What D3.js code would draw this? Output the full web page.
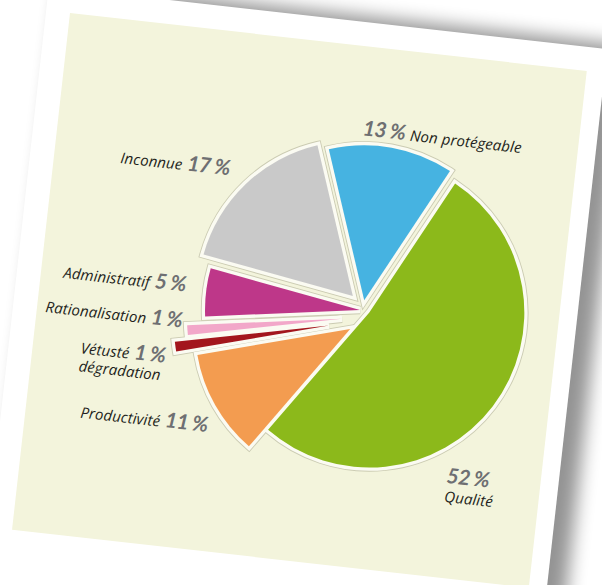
<!DOCTYPE html>
<html>
<head>
<meta charset="utf-8">
<script src="https://cdn.jsdelivr.net/npm/d3@7"></script>
<style>
  html, body { margin: 0; padding: 0; background: #ffffff; }
  svg { display: block; }
</style>
</head>
<body>
<svg id="chart" width="602" height="585"></svg>
<script>
// Causes, shares in percent (order: clockwise from the top-right edge of "Qualité")
const categories = ["Qualité", "Productivité", "Vétusté\ndégradation", "Rationalisation", "Administratif", "Inconnue", "Non protégeable"];
const shares = [52, 11, 1, 1, 5, 17, 13];
const percentLabels = ["52 %", "11 %", "1 %", "1 %", "5 %", "17 %", "13 %"];

// Slice colours
const sliceColors = ["#8cb91b", "#f39c50", "#a3161d", "#f2a7c9", "#be3789", "#c9c9c9", "#46b3e1"];

// Pull-out of each slice: distance in px and direction in degrees (clockwise from 12 o'clock)
const explodeDist = [8.7, 21.9, 35.6, 20.9, 1, 16.1, 10.3];
const explodeDir  = [100.4, 203.2, 237.6, 238.8, 263.6, 323.1, 11.7];

// Label anchors inside the card, and how number and text are arranged
const labelPos = [
  { x: 426, y: 425, form: "stack"  },
  { x: 55,  y: 401, form: "after"  },
  { x: 48,  y: 337, form: "after"  },
  { x: 8.5, y: 300, form: "after"  },
  { x: 22.5,y: 264, form: "after"  },
  { x: 66.4,y: 143.5, form: "after" },
  { x: 304, y: 89,  form: "before" }
];

// Card geometry
const tilt = 6.4;                 // degrees
const panelSize = 520;
const border = 24;
const pieCenter = [322.3, 262.7];
const radius = 155;
const startDeg = 27.2;

const svg = d3.select("#chart");
const defs = svg.append("defs");
defs.append("filter")
    .attr("id", "soft")
    .attr("x", "-30%").attr("y", "-30%")
    .attr("width", "160%").attr("height", "160%")
  .append("feGaussianBlur")
    .attr("stdDeviation", 9);

const card = svg.append("g")
    .attr("transform", `translate(70,13) rotate(${tilt})`);

// shadow under the card
card.append("rect")
    .attr("x", -border + 12).attr("y", -border - 6)
    .attr("width", panelSize + 2 * border + 2)
    .attr("height", panelSize + 2 * border + 120)
    .attr("fill", "#000")
    .attr("opacity", 0.42)
    .attr("filter", "url(#soft)");

// white card
card.append("rect")
    .attr("x", -border).attr("y", -border)
    .attr("width", panelSize + 2 * border - 6)
    .attr("height", panelSize + 2 * border + 120)
    .attr("fill", "#ffffff");

// cream panel
card.append("rect")
    .attr("x", 0).attr("y", 0)
    .attr("width", panelSize).attr("height", panelSize)
    .attr("fill", "#f3f4dc");

const toRad = Math.PI / 180;
const pie = d3.pie()
    .sort(null)
    .value(d => d)
    .startAngle(startDeg * toRad)
    .endAngle(startDeg * toRad + 2 * Math.PI);

const arc = d3.arc().innerRadius(0).outerRadius(radius);
const arcs = pie(shares);

const pieG = card.append("g")
    .attr("transform", `translate(${pieCenter[0]},${pieCenter[1]})`);

const shift = (d, i) => {
  const a = explodeDir[i] * toRad;
  return `translate(${explodeDist[i] * Math.sin(a)},${-explodeDist[i] * Math.cos(a)})`;
};

// rims first (grey hairline outside a light band), then all fills on top
const rims = pieG.append("g");
rims.selectAll("path.outer")
  .data(arcs)
  .join("path")
    .attr("class", "outer")
    .attr("transform", shift)
    .attr("d", arc)
    .attr("fill", "#fbfbf2")
    .attr("stroke", "#cbcbb2")
    .attr("stroke-width", 8.4)
    .attr("stroke-linejoin", "miter");
rims.selectAll("path.inner")
  .data(arcs)
  .join("path")
    .attr("class", "inner")
    .attr("transform", shift)
    .attr("d", arc)
    .attr("fill", "#fbfbf2")
    .attr("stroke", "#fbfbf2")
    .attr("stroke-width", 6.6)
    .attr("stroke-linejoin", "miter");

pieG.append("g").selectAll("path")
  .data(arcs)
  .join("path")
    .attr("transform", shift)
    .attr("d", arc)
    .attr("fill", (d, i) => sliceColors[i]);

// labels
const numStyle = t => t
    .attr("font-family", "Lato, sans-serif")
    .attr("font-size", 21)
    .attr("font-weight", 700)
    .attr("fill", "#6e6f72")
    .attr("letter-spacing", -0.6);
const txtStyle = t => t
    .attr("font-family", "'Open Sans', 'Noto Sans', sans-serif")
    .attr("font-size", 15)
    .attr("font-weight", 400)
    .attr("fill", "#231f20")
    .attr("letter-spacing", 0.1);

const labels = card.append("g")
    .attr("font-style", "italic");

categories.forEach((name, i) => {
  const p = labelPos[i];
  const lines = name.split("\n");
  const t = labels.append("text").attr("x", p.x).attr("y", p.y);
  if (p.form === "stack") {
    t.append("tspan").text(percentLabels[i]).call(numStyle);
    labels.append("text")
        .attr("x", p.x).attr("y", p.y + 19)
        .text(lines[0])
        .call(txtStyle);
  } else if (p.form === "before") {
    t.append("tspan").text(percentLabels[i]).call(numStyle);
    t.append("tspan").attr("dx", 5).text(lines[0]).call(txtStyle);
  } else {
    t.append("tspan").text(lines[0]).call(txtStyle);
    t.append("tspan").attr("dx", 5).text(percentLabels[i]).call(numStyle);
    if (lines.length > 1) {
      labels.append("text")
          .attr("x", p.x).attr("y", p.y + 18)
          .text(lines[1])
          .call(txtStyle);
    }
  }
});
</script>
</body>
</html>
